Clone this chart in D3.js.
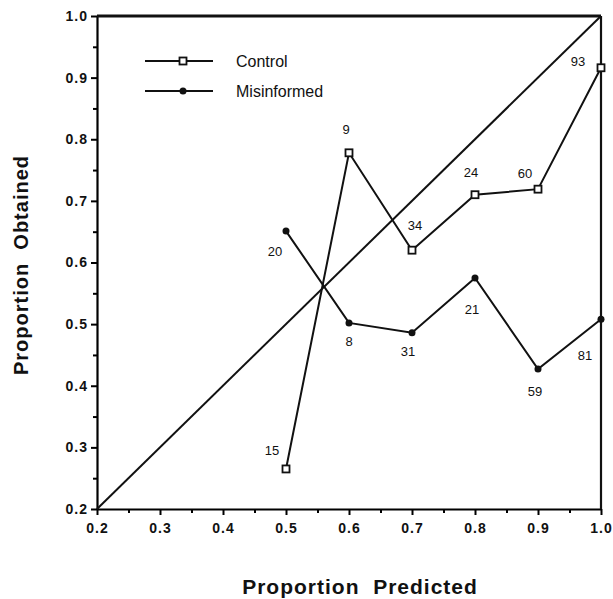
<!DOCTYPE html>
<html>
<head>
<meta charset="utf-8">
<script src="https://cdn.jsdelivr.net/npm/d3@7"></script>
<style>
  body { margin: 0; background: #fff; }
  text { font-family: "Liberation Sans", Arial, sans-serif; fill: #111; }
</style>
</head>
<body>
<div id="chart"></div>
<script>
// data
let predicted = [0.5, 0.6, 0.7, 0.8, 0.9, 1.0];
let controlObtained = [0.265, 0.778, 0.620, 0.710, 0.719, 0.916];
let controlN = [15, 9, 34, 24, 60, 93];
let misinformedObtained = [0.651, 0.502, 0.486, 0.575, 0.427, 0.508];
let misinformedN = [20, 8, 31, 21, 59, 81];
let tickValues = [0.2, 0.3, 0.4, 0.5, 0.6, 0.7, 0.8, 0.9, 1.0];
let minorTicks = [0.25, 0.35, 0.45, 0.55, 0.65, 0.75, 0.85, 0.95];

// where the n labels sit relative to their point (px)
let controlLabelOffset = [[-14, -18], [-3, -23], [3, -25], [-4, -22], [-13, -16], [-23, -6]];
let misinformedLabelOffset = [[-11, 20], [0, 19], [-4, 19], [-3, 32], [-3, 22], [-16, 36]];

let margin = {top: 16, right: 12, bottom: 90, left: 97},
    width = 613 - margin.left - margin.right,
    height = 599 - margin.top - margin.bottom;

let svg = d3.select("#chart")
  .append("svg")
    .attr("width", 613)
    .attr("height", 599)
  .append("g")
    .attr("transform", "translate(" + margin.left + "," + margin.top + ")");

let x = d3.scaleLinear().domain([0.2, 1.0]).range([0, width]);
let y = d3.scaleLinear().domain([0.2, 1.0]).range([height, 0]);

// minor ticks
svg.append("g")
  .attr("transform", "translate(0," + height + ")")
  .call(d3.axisBottom(x).tickValues(minorTicks).tickSize(4).tickFormat(""))
  .call(g => g.select(".domain").remove())
  .selectAll("line").attr("stroke-width", 2);
svg.append("g")
  .call(d3.axisLeft(y).tickValues(minorTicks).tickSize(4).tickFormat(""))
  .call(g => g.select(".domain").remove())
  .selectAll("line").attr("stroke-width", 2);

// X axis
let xAxis = svg.append("g")
  .attr("transform", "translate(0," + height + ")")
  .call(d3.axisBottom(x).tickValues(tickValues).tickSize(6).tickSizeOuter(0).tickPadding(8).tickFormat(d3.format(".1f")));
xAxis.select(".domain").attr("stroke-width", 2.2);
xAxis.selectAll("line").attr("stroke-width", 2);
xAxis.selectAll("text").style("font-size", "14px").style("font-weight", "bold")
  .style("letter-spacing", "1px").attr("fill", "#222");

// Y axis
let yAxis = svg.append("g")
  .call(d3.axisLeft(y).tickValues(tickValues).tickSize(6).tickSizeOuter(0).tickPadding(3).tickFormat(d3.format(".1f")));
yAxis.select(".domain").attr("stroke-width", 2.2);
yAxis.selectAll("line").attr("stroke-width", 2);
yAxis.selectAll("text").style("font-size", "14px").style("font-weight", "bold")
  .style("letter-spacing", "1px").attr("fill", "#222");

// frame top and right
svg.append("line")
  .attr("x1", x(0.2)).attr("x2", x(1.0)).attr("y1", y(1.0)).attr("y2", y(1.0))
  .attr("stroke", "#111").attr("stroke-width", 2.8);
svg.append("line")
  .attr("x1", x(1.0)).attr("x2", x(1.0)).attr("y1", y(1.0)).attr("y2", y(0.2))
  .attr("stroke", "#111").attr("stroke-width", 2.2);

// diagonal of perfect calibration
svg.append("line")
  .attr("x1", x(0.2)).attr("y1", y(0.2)).attr("x2", x(1.0)).attr("y2", y(1.0))
  .attr("stroke", "#111").attr("stroke-width", 2);

let line = d3.line().x(d => x(d[0])).y(d => y(d[1]));
let controlData = predicted.map((p, i) => [p, controlObtained[i], controlN[i]]);
let misinformedData = predicted.map((p, i) => [p, misinformedObtained[i], misinformedN[i]]);

// Misinformed series
svg.append("path")
  .datum(misinformedData)
  .attr("d", line)
  .attr("fill", "none").attr("stroke", "#111").attr("stroke-width", 2);
svg.append("g")
  .selectAll("circle")
  .data(misinformedData)
  .enter()
  .append("circle")
    .attr("cx", d => x(d[0]))
    .attr("cy", d => y(d[1]))
    .attr("r", 3.5)
    .attr("fill", "#111");
svg.append("g")
  .selectAll("text")
  .data(misinformedData)
  .enter()
  .append("text")
    .attr("x", (d, i) => x(d[0]) + misinformedLabelOffset[i][0])
    .attr("y", (d, i) => y(d[1]) + misinformedLabelOffset[i][1])
    .attr("text-anchor", "middle")
    .attr("dominant-baseline", "central")
    .style("font-size", "13px")
    .text(d => d[2]);

// Control series
svg.append("path")
  .datum(controlData)
  .attr("d", line)
  .attr("fill", "none").attr("stroke", "#111").attr("stroke-width", 2);
svg.append("g")
  .selectAll("rect")
  .data(controlData)
  .enter()
  .append("rect")
    .attr("x", d => x(d[0]) - 3.5)
    .attr("y", d => y(d[1]) - 3.5)
    .attr("width", 7)
    .attr("height", 7)
    .attr("fill", "#fff")
    .attr("stroke", "#111")
    .attr("stroke-width", 1.8);
svg.append("g")
  .selectAll("text")
  .data(controlData)
  .enter()
  .append("text")
    .attr("x", (d, i) => x(d[0]) + controlLabelOffset[i][0])
    .attr("y", (d, i) => y(d[1]) + controlLabelOffset[i][1])
    .attr("text-anchor", "middle")
    .attr("dominant-baseline", "central")
    .style("font-size", "13px")
    .text(d => d[2]);

// legend
let legend = svg.append("g").attr("transform", "translate(48,45)");
legend.append("line").attr("x1", 0).attr("x2", 68).attr("y1", 0).attr("y2", 0)
  .attr("stroke", "#111").attr("stroke-width", 2);
legend.append("rect").attr("x", 34.5).attr("y", -3.5).attr("width", 7).attr("height", 7)
  .attr("fill", "#fff").attr("stroke", "#111").attr("stroke-width", 1.8);
legend.append("text").attr("x", 91).attr("y", 0).attr("dominant-baseline", "central")
  .style("font-size", "16px").text("Control");
legend.append("line").attr("x1", 0).attr("x2", 68).attr("y1", 30).attr("y2", 30)
  .attr("stroke", "#111").attr("stroke-width", 2);
legend.append("circle").attr("cx", 38).attr("cy", 30).attr("r", 3.5).attr("fill", "#111");
legend.append("text").attr("x", 91).attr("y", 30).attr("dominant-baseline", "central")
  .style("font-size", "16px").text("Misinformed");

// axis titles
svg.append("text")
  .attr("x", 263)
  .attr("y", 578)
  .attr("text-anchor", "middle")
  .style("font-size", "21px")
  .style("font-weight", "bold")
  .style("letter-spacing", "1px")
  .style("white-space", "pre")
  .text("Proportion  Predicted");

svg.append("text")
  .attr("transform", "translate(-69," + 249 + ") rotate(-90)")
  .attr("text-anchor", "middle")
  .style("font-size", "20px")
  .style("font-weight", "bold")
  .style("letter-spacing", "1px")
  .style("white-space", "pre")
  .text("Proportion  Obtained");
</script>
</body>
</html>
